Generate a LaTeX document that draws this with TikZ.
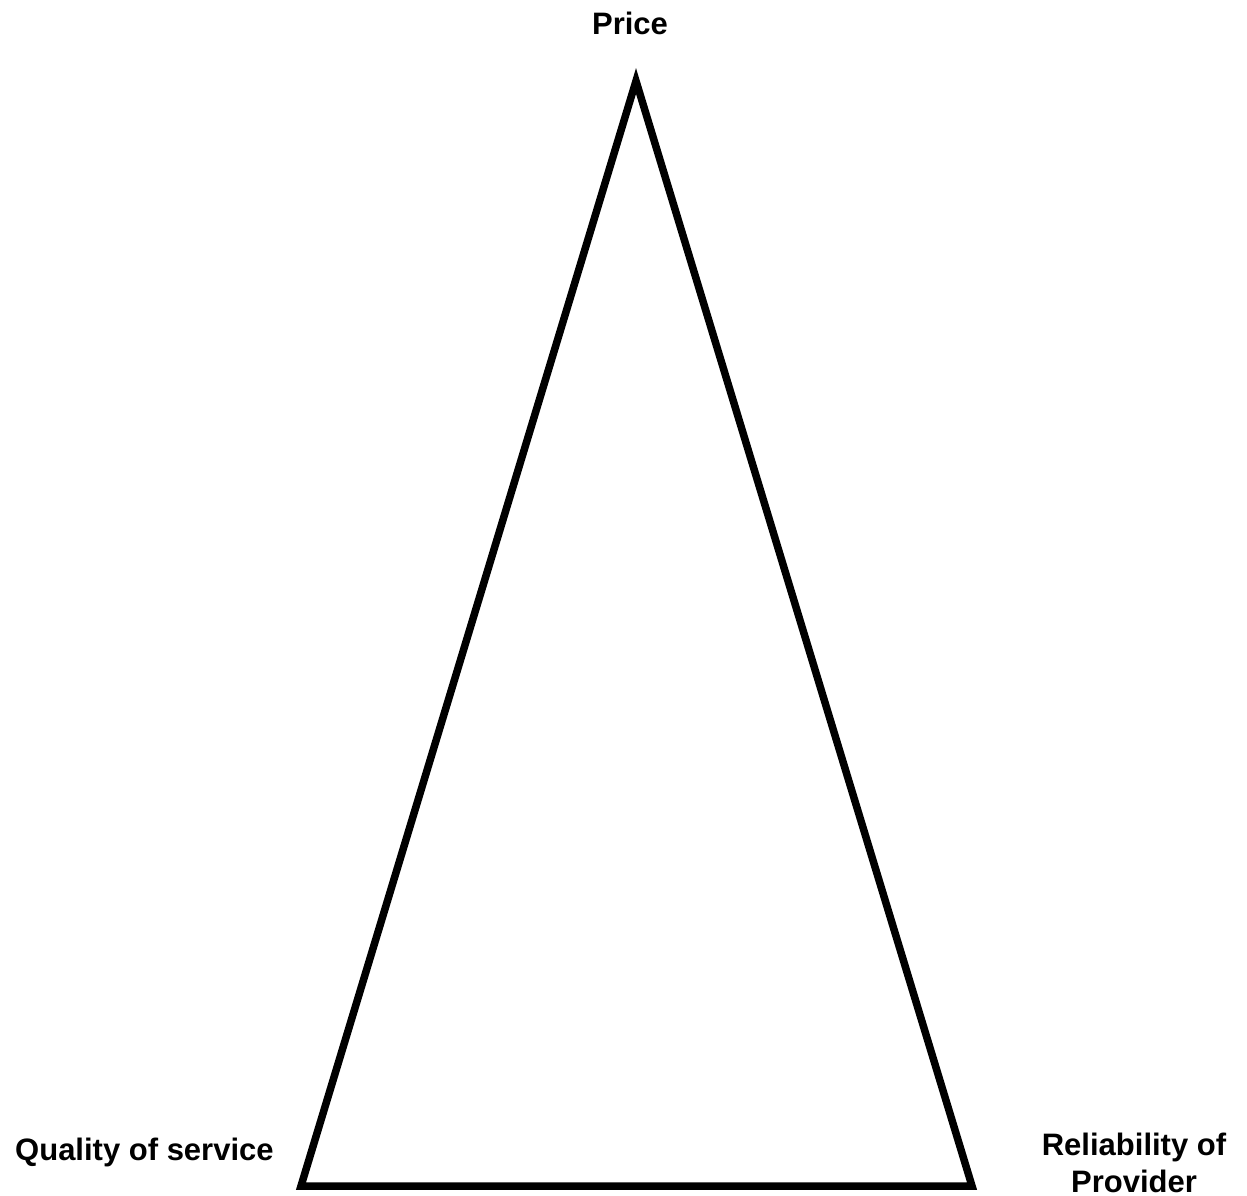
\documentclass[tikz,border=0pt]{standalone}
\usepackage{fontspec}
\setmainfont{Liberation Sans}
\begin{document}
\begin{tikzpicture}[x=1pt,y=-1pt,
  lbl/.style={font=\fontsize{31}{37}\selectfont\bfseries, inner sep=0pt, align=center},
  edge/.style={draw=black, line width=7.5pt, miter limit=20, line join=miter}]
\useasboundingbox[fill=white] (0,0) rectangle (1247,1196);
\coordinate (top) at (636,81);
\coordinate (bl) at (301,1186);
\coordinate (br) at (972,1186);
\draw[edge] (top) -- (bl) -- (br) -- cycle;
\node[lbl, anchor=base] (price) at (630,35) {Price};
\node[lbl, anchor=base west] (quality) at (15,1160) {Quality of service};
\node[lbl, anchor=base] (rel) at (1134,1192) {Reliability of\\Provider};
\end{tikzpicture}
\end{document}
